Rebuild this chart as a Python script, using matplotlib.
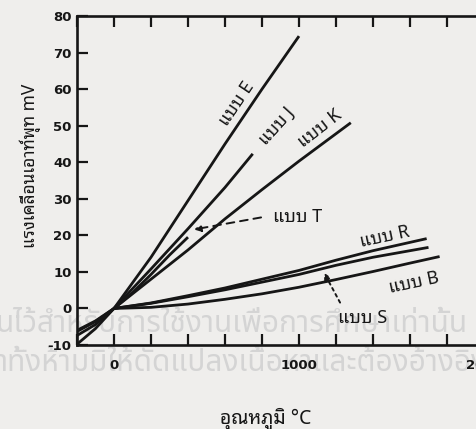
import matplotlib
matplotlib.use('Agg')
import matplotlib.pyplot as plt
from matplotlib import font_manager
from matplotlib.ticker import FixedLocator, MultipleLocator

# ค่าที่อ่านจากกราฟ (อุณหภูมิ C, แรงเคลื่อน mV)
temp_E = [-200, -100, 0, 200, 400, 600, 800, 1000]
mv_E = [-9.8, -5.5, 0, 14.0, 29.5, 45.0, 60.0, 74.5]
temp_J = [-200, -100, 0, 200, 400, 600, 750]
mv_J = [-7.4, -4.4, 0, 10.8, 21.8, 33.1, 42.3]
temp_K = [-200, -100, 0, 200, 400, 600, 800, 1000, 1280]
mv_K = [-6.3, -3.6, 0, 8.0, 16.0, 24.5, 32.5, 40.3, 50.8]
temp_T = [-200, -100, 0, 100, 200, 300, 400]
mv_T = [-6.0, -3.4, 0, 4.3, 9.3, 14.6, 19.5]
temp_R = [0, 200, 400, 600, 800, 1000, 1200, 1400, 1690]
mv_R = [0, 1.5, 3.5, 5.6, 8.0, 10.4, 13.2, 15.8, 19.1]
temp_S = [0, 200, 400, 600, 800, 1000, 1200, 1400, 1700]
mv_S = [0, 1.4, 3.2, 5.1, 7.2, 9.3, 11.8, 14.0, 16.7]
temp_B = [0, 200, 400, 600, 800, 1000, 1200, 1400, 1600, 1760]
mv_B = [0, 0.3, 1.2, 2.5, 4.0, 5.8, 7.9, 10.1, 12.4, 14.2]

xticks_major = [0, 1000, 2000]
yticks = [-10, 0, 10, 20, 30, 40, 50, 60, 70, 80]


def pick(names):
    have = {f.name for f in font_manager.fontManager.ttflist}
    for n in names:
        if n in have:
            return n
    return 'DejaVu Sans'


plt.rcParams['axes.unicode_minus'] = False
thai_lab = pick(['Noto Sans Thai Looped', 'Noto Serif Thai', 'Sarabun', 'Noto Sans Thai'])
thai_wm = pick(['Noto Sans Thai', 'Sarabun', 'Prompt', 'Kanit'])
fam_lab = [thai_lab, 'DejaVu Sans']
fam_wm = [thai_wm, 'DejaVu Sans']

ink = '#161616'
paper = '#efeeec'
W, H = 477, 429

fig = plt.figure(figsize=(W / 100, H / 100), dpi=100, facecolor=paper)
ax = fig.add_axes([77 / W, 84 / H, 407 / W, 329 / H])
ax.set_facecolor('none')

# ลายน้ำ
fig.text(-4 / W, 1 - 332 / H, 'นไว้สำหรับการใช้งานเพื่อการศึกษาเท่านั้น', family=fam_wm,
         fontsize=21.5, color='#d4d4d4', ha='left', va='baseline', zorder=-1)
fig.text(-4 / W, 1 - 371 / H, 'าทั้งห้ามมิให้ดัดแปลงเนื้อหาและต้องอ้างอิงถึงแหล่งที่มา', family=fam_wm,
         fontsize=21.5, color='#d4d4d4', ha='left', va='baseline', zorder=-1)

for t, v in [(temp_E, mv_E), (temp_J, mv_J), (temp_K, mv_K), (temp_T, mv_T),
             (temp_R, mv_R), (temp_S, mv_S), (temp_B, mv_B)]:
    ax.plot(t, v, color=ink, lw=2.0, solid_capstyle='butt')

ax.set_xlim(-200, 2000)
ax.set_ylim(-10, 80)
ax.xaxis.set_major_locator(FixedLocator(xticks_major))
ax.xaxis.set_minor_locator(MultipleLocator(200))
ax.yaxis.set_major_locator(FixedLocator(yticks))
ax.tick_params(axis='x', which='both', direction='in', top=True, bottom=True,
               length=8, width=1.6, color=ink, pad=10)
ax.tick_params(axis='y', which='both', direction='in', length=8, width=1.6, color=ink, pad=4)
for lab in ax.get_xticklabels() + ax.get_yticklabels():
    lab.set_fontweight('bold')
    lab.set_fontsize(9.5)
    lab.set_color(ink)
for s in ['left', 'bottom', 'top']:
    ax.spines[s].set_linewidth(1.9)
    ax.spines[s].set_color(ink)
ax.spines['right'].set_visible(False)

fig.text(30 / W, 1 - 166 / H, 'แรงเคลื่อนเอาท์พุท mV', family=fam_lab, rotation=90,
         fontsize=12.5, fontweight='bold', color=ink, ha='center', va='center')
fig.text(266 / W, 1 - 419 / H, 'อุณหภูมิ °C', family=fam_lab,
         fontsize=14, fontweight='bold', color=ink, ha='center', va='center')

lab_kw = dict(family=fam_lab, fontsize=13, fontweight='bold', color=ink,
              ha='center', va='center', rotation_mode='anchor')
ax.text(665, 56, 'แบบ E', rotation=56, **lab_kw)
ax.text(881, 50, 'แบบ J', rotation=48, **lab_kw)
ax.text(1114, 49.2, 'แบบ K', rotation=38, **lab_kw)
ax.text(990, 24.9, 'แบบ T', **lab_kw)
ax.text(1465, 19.7, 'แบบ R', rotation=12, **lab_kw)
ax.text(1622, 7.1, 'แบบ B', rotation=12, **lab_kw)
ax.text(1346, -2.7, 'แบบ S', **lab_kw)

ax.annotate('', xy=(432, 21.6), xytext=(795, 24.9),
            arrowprops=dict(arrowstyle='-|>', linestyle=(0, (4, 3)), lw=1.4,
                            color=ink, mutation_scale=10, shrinkA=0, shrinkB=0))
ax.annotate('', xy=(1135, 9.8), xytext=(1222, 1.6),
            arrowprops=dict(arrowstyle='-|>', linestyle=(0, (1.5, 2)), lw=1.4,
                            color=ink, mutation_scale=10, shrinkA=0, shrinkB=0))

fig.savefig('out.png', dpi=100, facecolor=paper)
